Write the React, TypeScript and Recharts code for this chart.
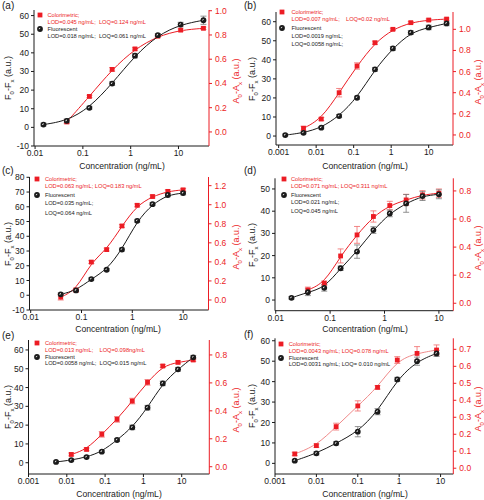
import React from 'react';
import { ComposedChart, Line, Scatter, XAxis, YAxis, ErrorBar } from 'recharts';

const RED = '#ec1c24';
const INK = '#1a1a1a';
const FONT = '"Liberation Sans", Arial, sans-serif';

// (a)
const concA = [0.015, 0.046, 0.137, 0.41, 1.23, 3.7, 11.1, 33.3];
const fluoA = [1.5, 3.5, 10.5, 23.5, 38.5, 49.5, 55.2, 57.5];
const fluoErrA = [0.8, 1, 0.8, 1, 1.2, 0.8, 1.2, 2.2];
const colorConcA = [0.046, 0.137, 0.41, 1.23, 3.7, 11.1, 33.3];
const colorA = [0.083, 0.293, 0.516, 0.685, 0.79, 0.84, 0.855];
const colorErrA = [0.015, 0.01, 0.015, 0.01, 0.01, 0.01, 0.01];

// (b)
const concB = [0.0015, 0.0046, 0.0137, 0.041, 0.123, 0.37, 1.11, 3.33, 10, 30];
const fluoB = [0.5, 1.7, 4.4, 10.5, 20.1, 35, 46, 54.3, 57, 59.1];
const fluoErrB = [0.5, 0.5, 0.6, 0.8, 0.8, 1, 1, 1, 1.2, 1.2];
const colorConcB = [0.0046, 0.0137, 0.041, 0.123, 0.37, 1.11, 3.33, 10, 30];
const colorB = [0.063, 0.151, 0.4, 0.653, 0.873, 1.0, 1.063, 1.088, 1.097];
const colorErrB = [0.02, 0.015, 0.04, 0.03, 0.015, 0.01, 0.01, 0.01, 0.01];

// (c)
const concC = [0.039, 0.078, 0.156, 0.3125, 0.625, 1.25, 2.5, 5, 10];
const fluoC = [0.6, 3.3, 11, 17.3, 31, 50.5, 61.8, 68, 69.3];
const fluoErrC = [1, 0.6, 0.8, 0.8, 1, 1, 1, 1.2, 1.2];
const colorC = [0.03, 0.104, 0.398, 0.529, 0.777, 0.994, 1.086, 1.14, 1.156];
const colorErrC = [0.03, 0.02, 0.015, 0.015, 0.015, 0.015, 0.015, 0.015, 0.015];

// (d)
const concD = [0.0195, 0.039, 0.078, 0.156, 0.3125, 0.625, 1.25, 2.5, 5, 10];
const fluoD = [1, 3.5, 5.5, 14.3, 21.8, 31.5, 39, 43.5, 46.8, 47.6];
const fluoErrD = [0.6, 1.5, 1.5, 1, 3, 1.5, 1.5, 4, 2, 2];
const colorConcD = [0.039, 0.078, 0.156, 0.3125, 0.625, 1.25, 2.5, 5, 10];
const colorD = [0.095, 0.143, 0.337, 0.487, 0.618, 0.696, 0.736, 0.772, 0.784];
const colorErrD = [0.02, 0.015, 0.05, 0.06, 0.04, 0.03, 0.04, 0.03, 0.03];

// (e)
const concE = [0.00524, 0.0131, 0.0328, 0.082, 0.205, 0.512, 1.28, 3.2, 8, 20];
const fluoE = [0.4, 1.4, 3, 5.9, 12.1, 18.8, 29.3, 42.2, 49.7, 56.1];
const fluoErrE = [0.5, 0.5, 0.5, 0.5, 0.8, 1.2, 1.2, 1.2, 1, 1];
const colorConcE = [0.0131, 0.0328, 0.082, 0.205, 0.512, 1.28, 3.2, 8, 20];
const colorE = [0.088, 0.124, 0.232, 0.339, 0.47, 0.604, 0.721, 0.747, 0.764];
const colorErrE = [0.01, 0.01, 0.02, 0.02, 0.02, 0.02, 0.01, 0.01, 0.01];

// (f)
const concF = [0.003, 0.01, 0.03, 0.1, 0.3, 0.9, 2.7, 8];
const fluoF = [1.3, 4.9, 9.8, 15.5, 25.3, 41.1, 50, 53.8];
const fluoErrF = [0.5, 0.8, 0.8, 2.5, 1.5, 1, 2, 1.5];
const colorF = [0.084, 0.133, 0.245, 0.367, 0.476, 0.637, 0.676, 0.696];
const colorErrF = [0.01, 0.01, 0.02, 0.03, 0.01, 0.02, 0.04, 0.03];

// tick labels
const xTicks2 = [0.01, 0.1, 1, 10];
const xTicks3 = [0.001, 0.01, 0.1, 1, 10];
const ticks10to60 = [-10, 0, 10, 20, 30, 40, 50, 60];
const ticks0to60 = [0, 10, 20, 30, 40, 50, 60];
const ticks10to80 = [-10, 0, 10, 20, 30, 40, 50, 60, 70, 80];
const ticks0to50 = [0, 10, 20, 30, 40, 50];
const rTicks10 = [0, 0.2, 0.4, 0.6, 0.8, 1.0];
const rTicks12 = [0, 0.2, 0.4, 0.6, 0.8, 1.0, 1.2];
const rTicks08 = [0, 0.2, 0.4, 0.6, 0.8];
const rTicks07 = [0, 0.1, 0.2, 0.3, 0.4, 0.5, 0.6, 0.7];

const legendA = {
  color: ['Colorimetric;', 'LOD=0.045 ng/mL;  LOQ=0.124 ng/mL'],
  fluo: ['Fluorescent', 'LOD=0.018 ng/mL;  LOQ=0.061 ng/mL'],
};
const legendB = {
  color: ['Colorimetric;', 'LOD=0.007 ng/mL;    LOQ=0.02 ng/mL'],
  fluo: ['Fluorescent', 'LOD=0.0019 ng/mL;', 'LOQ=0.0058 ng/mL;'],
};
const legendC = {
  color: ['Colorimetric;', 'LOD=0.063 ng/mL; LOQ=0.183 ng/mL'],
  fluo: ['Fluorescent', 'LOD=0.035 ng/mL;', 'LOQ=0.064 ng/mL'],
};
const legendD = {
  color: ['Colorimetric;', 'LOD=0.071 ng/mL; LOQ=0.311 ng/mL'],
  fluo: ['Fluorescent', 'LOD=0.021 ng/mL;', 'LOQ=0.045 ng/mL'],
};
const legendE = {
  color: ['Colorimetric;', 'LOD=0.013 ng/mL;    LOQ=0.098ng/mL'],
  fluo: ['Fluorescent', 'LOD=0.0058 ng/mL;  LOQ=0.015 ng/mL'],
};
const legendF = {
  color: ['Colorimetric;', 'LOD=0.0043 ng/mL; LOQ=0.078 ng/mL'],
  fluo: ['Fluorescent', 'LOD=0.0031 ng/mL; LOQ= 0.010 ng/mL'],
};

type Pt = { x: number; y: number; e: number };
const pts = (xs: number[], ys: number[], es: number[]): Pt[] =>
  xs.map((x, i) => ({ x, y: ys[i], e: es[i] }));

const Ball = (p: any) => {
  const { cx, cy } = p;
  if (cx == null || cy == null) return <g />;
  return (
    <g>
      <circle cx={cx} cy={cy} r={2.9} fill={INK} />
      <ellipse
        cx={cx - 0.5}
        cy={cy - 0.5}
        rx={1.1}
        ry={0.45}
        fill="#fff"
        transform={`rotate(-45 ${cx - 0.5} ${cy - 0.5})`}
      />
    </g>
  );
};

const Square = (p: any) => {
  const { cx, cy } = p;
  if (cx == null || cy == null) return <g />;
  return <rect x={cx - 2.4} y={cy - 2.4} width={4.8} height={4.8} fill={RED} />;
};

const W = 242;
const H = 178;
const XH = 14;

function Panel({ cfg }: { cfg: any }) {
  const fluo = pts(cfg.conc, cfg.fluo, cfg.fluoErr);
  const color = pts(cfg.colorConc, cfg.color, cfg.colorErr);
  const tickText = { fontSize: 8.5, fontFamily: FONT };
  const cy = (cfg.top + cfg.bottom) / 2;
  return (
    <>
      <div style={{ position: 'absolute', left: cfg.x0, top: cfg.y0, width: W, height: H }}>
        <ComposedChart
          width={W}
          height={H}
          margin={{ top: cfg.top - cfg.y0, right: 0, left: 0, bottom: cfg.y0 + H - cfg.bottom - XH }}
          style={{ overflow: 'visible' }}
        >
          <XAxis
            dataKey="x"
            type="number"
            scale="log"
            domain={cfg.xDomain}
            ticks={cfg.xTicks}
            allowDataOverflow
            height={XH}
            tickSize={3}
            tickMargin={1}
            interval={0}
            tickFormatter={(v: number) => String(v)}
            tick={{ ...tickText, fill: INK }}
            axisLine={{ stroke: INK }}
            tickLine={{ stroke: INK }}
          />
          <YAxis
            yAxisId="l"
            dataKey="y"
            type="number"
            domain={cfg.lDomain}
            ticks={cfg.lTicks}
            allowDataOverflow
            interval={0}
            width={cfg.left - cfg.x0}
            tickSize={3}
            tickMargin={2}
            tick={{ ...tickText, fill: INK }}
            axisLine={{ stroke: INK }}
            tickLine={{ stroke: INK }}
          />
          <YAxis
            yAxisId="r"
            orientation="right"
            dataKey="y"
            type="number"
            domain={cfg.rDomain}
            ticks={cfg.rTicks}
            allowDataOverflow
            interval={0}
            width={cfg.x0 + W - cfg.right}
            tickSize={3}
            tickMargin={3}
            tickFormatter={(v: number) => v.toFixed(1)}
            tick={{ ...tickText, fill: RED }}
            axisLine={{ stroke: RED }}
            tickLine={{ stroke: RED }}
          />
          <Line
            data={color}
            dataKey="y"
            yAxisId="r"
            type="basis"
            stroke={cfg.redCurve}
            strokeWidth={1}
            dot={false}
            isAnimationActive={false}
          />
          <Line
            data={fluo}
            dataKey="y"
            yAxisId="l"
            type="basis"
            stroke={INK}
            strokeWidth={1}
            dot={false}
            isAnimationActive={false}
          />
          <Scatter data={color} yAxisId="r" shape={Square} isAnimationActive={false}>
            <ErrorBar dataKey="e" direction="y" width={3} stroke="#f06a6a" strokeWidth={0.8} />
          </Scatter>
          <Scatter data={fluo} yAxisId="l" shape={Ball} isAnimationActive={false}>
            <ErrorBar dataKey="e" direction="y" width={3} stroke="#777" strokeWidth={0.8} />
          </Scatter>
        </ComposedChart>
      </div>

      <div style={{ position: 'absolute', left: cfg.x0 + 2, top: cfg.letterY - 6, fontSize: 10, fontFamily: FONT, color: INK }}>
        {cfg.letter}
      </div>

      <div
        style={{
          position: 'absolute',
          left: cfg.xTitleX,
          top: cfg.xTitleY,
          transform: 'translate(-50%, -50%)',
          fontSize: 8.6,
          fontFamily: FONT,
          color: INK,
          whiteSpace: 'nowrap',
        }}
      >
        Concentration (ng/mL)
      </div>

      <div
        style={{
          position: 'absolute',
          left: cfg.x0 + cfg.lTitleX,
          top: cy,
          transform: 'translate(-50%, -50%) rotate(-90deg)',
          fontSize: 9,
          fontFamily: FONT,
          color: INK,
          whiteSpace: 'nowrap',
        }}
      >
        F<sub style={{ fontSize: 6 }}>0</sub>-F<sub style={{ fontSize: 6 }}>x</sub> (a.u.)
      </div>

      <div
        style={{
          position: 'absolute',
          left: cfg.x0 + cfg.rTitleX,
          top: cy + 3,
          transform: 'translate(-50%, -50%) rotate(-90deg)',
          fontSize: 9,
          fontFamily: FONT,
          color: RED,
          whiteSpace: 'nowrap',
        }}
      >
        A<sub style={{ fontSize: 6 }}>0</sub>-A<sub style={{ fontSize: 6 }}>x</sub> (a.u.)
      </div>

      <Legend cfg={cfg} />
    </>
  );
}

function Legend({ cfg }: { cfg: any }) {
  const rows: { text: string; color: string; y: number; mark?: 'sq' | 'ball' }[] = [];
  cfg.legend.color.forEach((t: string, i: number) =>
    rows.push({ text: t, color: RED, y: cfg.legendYs[i], mark: i === 0 ? 'sq' : undefined })
  );
  cfg.legend.fluo.forEach((t: string, i: number) =>
    rows.push({
      text: t,
      color: INK,
      y: cfg.legendYs[cfg.legend.color.length + i],
      mark: i === 0 ? 'ball' : undefined,
    })
  );
  return (
    <>
      {rows.map((r, i) => (
        <React.Fragment key={i}>
          <div
            style={{
              position: 'absolute',
              left: cfg.legendX,
              top: r.y - 4,
              height: 8,
              lineHeight: '8px',
              fontSize: 5.7,
              fontFamily: FONT,
              color: r.color,
              whiteSpace: 'pre',
            }}
          >
            {r.text}
          </div>
          {r.mark && (
            <svg
              width={10}
              height={10}
              style={{ position: 'absolute', left: cfg.markX - 5, top: r.y - 5, overflow: 'visible' }}
            >
              {r.mark === 'sq' ? <Square cx={5} cy={5} /> : <Ball cx={5} cy={5} />}
            </svg>
          )}
        </React.Fragment>
      ))}
    </>
  );
}

const panels = [
  {
    letter: '(a)', x0: 0, y0: 0, letterY: 6,
    left: 34, right: 209, top: 10, bottom: 146,
    xDomain: [0.0095, 43.5], xTicks: xTicks2,
    lDomain: [-10, 63], lTicks: ticks10to60,
    rDomain: [-0.116, 1.006], rTicks: rTicks10,
    conc: concA, fluo: fluoA, fluoErr: fluoErrA,
    colorConc: colorConcA, color: colorA, colorErr: colorErrA,
    redCurve: RED, legend: legendA,
    legendX: 47.5, markX: 40, legendYs: [15, 22, 29, 35.5],
    xTitleX: 122, xTitleY: 165.5, lTitleX: 9, rTitleX: 236.5,
  },
  {
    letter: '(b)', x0: 242, y0: 0, letterY: 6,
    left: 276, right: 453, top: 12, bottom: 145,
    xDomain: [0.00085, 44.5], xTicks: xTicks3,
    lDomain: [-4.7, 65.1], lTicks: ticks0to60,
    rDomain: [-0.095, 1.164], rTicks: rTicks10,
    conc: concB, fluo: fluoB, fluoErr: fluoErrB,
    colorConc: colorConcB, color: colorB, colorErr: colorErrB,
    redCurve: RED, legend: legendB,
    legendX: 291.5, markX: 282, legendYs: [12, 19, 27.5, 35.5, 44],
    xTitleX: 365, xTitleY: 165.5, lTitleX: 11, rTitleX: 237,
  },
  {
    letter: '(c)', x0: 0, y0: 165, letterY: 171,
    left: 29.5, right: 208.5, top: 177, bottom: 310,
    xDomain: [0.00947, 31.6], xTicks: xTicks2,
    lDomain: [-10, 80.2], lTicks: ticks10to80,
    rDomain: [-0.105, 1.291], rTicks: rTicks12,
    conc: concC, fluo: fluoC, fluoErr: fluoErrC,
    colorConc: concC, color: colorC, colorErr: colorErrC,
    redCurve: RED, legend: legendC,
    legendX: 45, markX: 37, legendYs: [179, 186, 195, 203, 212.5],
    xTitleX: 118, xTitleY: 329, lTitleX: 8.5, rTitleX: 236.5,
  },
  {
    letter: '(d)', x0: 242, y0: 165, letterY: 171,
    left: 275, right: 453.3, top: 178.3, bottom: 310.7,
    xDomain: [0.0097, 18.4], xTicks: xTicks2,
    lDomain: [-4.8, 54.8], lTicks: ticks0to50,
    rDomain: [-0.053, 0.89], rTicks: rTicks08,
    conc: concD, fluo: fluoD, fluoErr: fluoErrD,
    colorConc: colorConcD, color: colorD, colorErr: colorErrD,
    redCurve: RED, legend: legendD,
    legendX: 291, markX: 283.5, legendYs: [179, 186.3, 195, 202.3, 210.7],
    xTitleX: 365, xTitleY: 329, lTitleX: 10.5, rTitleX: 237,
  },
  {
    letter: '(e)', x0: 0, y0: 330, letterY: 336,
    left: 28.5, right: 209.3, top: 340, bottom: 474,
    xDomain: [0.001, 52.5], xTicks: xTicks3,
    lDomain: [-6, 65.3], lTicks: ticks0to60,
    rDomain: [-0.052, 0.907], rTicks: rTicks08,
    conc: concE, fluo: fluoE, fluoErr: fluoErrE,
    colorConc: colorConcE, color: colorE, colorErr: colorErrE,
    redCurve: RED, legend: legendE,
    legendX: 45, markX: 37, legendYs: [343.3, 350.3, 356.5, 363],
    xTitleX: 119, xTitleY: 494, lTitleX: 8.5, rTitleX: 236.5,
  },
  {
    letter: '(f)', x0: 242, y0: 330, letterY: 335,
    left: 275, right: 453.3, top: 338.3, bottom: 474,
    xDomain: [0.001, 20.3], xTicks: xTicks3,
    lDomain: [-5.2, 61.2], lTicks: ticks0to60,
    rDomain: [-0.034, 0.765], rTicks: rTicks07,
    conc: concF, fluo: fluoF, fluoErr: fluoErrF,
    colorConc: concF, color: colorF, colorErr: colorErrF,
    redCurve: '#f08a8a', legend: legendF,
    legendX: 288.7, markX: 281.3, legendYs: [344, 351, 358, 364.3],
    xTitleX: 365, xTitleY: 494, lTitleX: 10.5, rTitleX: 237,
  },
];

export default function App() {
  return (
    <div style={{ position: 'absolute', left: 0, top: 0, width: 484, height: 500, background: '#fff', overflow: 'hidden' }}>
      {panels.map((p) => (
        <Panel key={p.letter} cfg={p} />
      ))}
    </div>
  );
}
